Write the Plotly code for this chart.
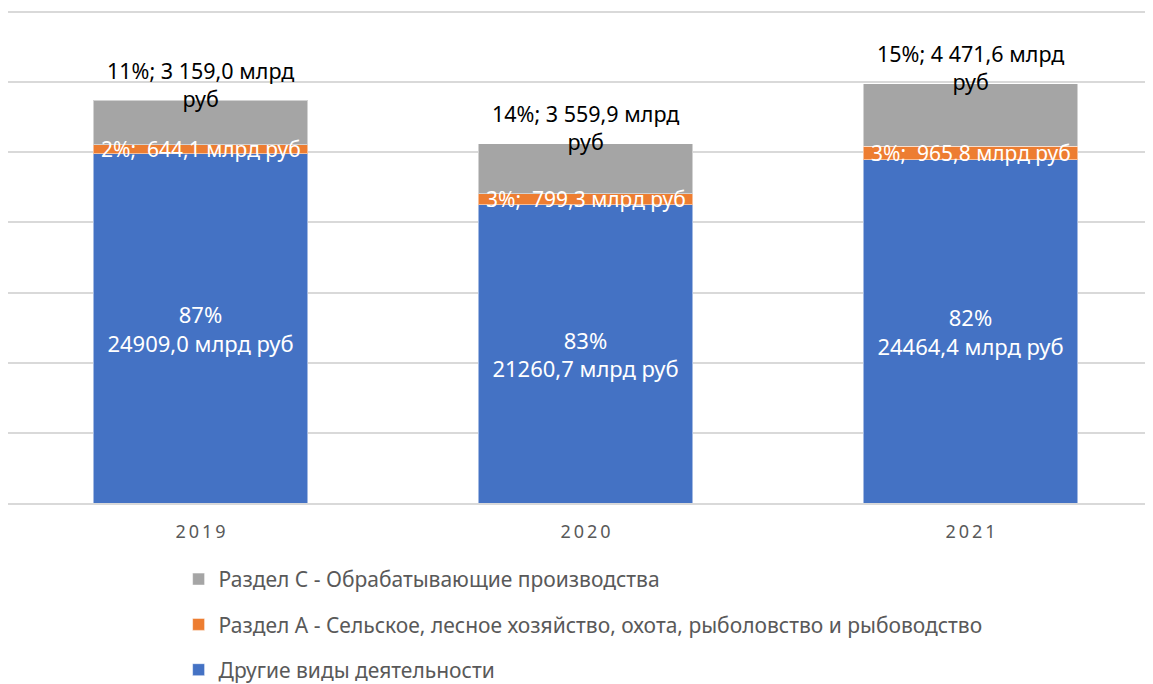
import plotly.graph_objects as go

years = ["2019", "2020", "2021"]
year_ticks = ["2\u20090\u20091\u20099", "2\u20090\u20092\u20090", "2\u20090\u20092\u20091"]

other_vals = [24909.0, 21260.7, 24464.4]
other_pct = [87, 83, 82]
a_vals = [644.1, 799.3, 965.8]
a_pct = [2, 3, 3]
c_vals = [3159.0, 3559.9, 4471.6]
c_pct = [11, 14, 15]

names = [
    "Другие виды деятельности",
    "Раздел А - Сельское, лесное хозяйство, охота, рыболовство и рыбоводство",
    "Раздел С - Обрабатывающие производства",
]
colors = ["#4472C4", "#ED7D31", "#A5A5A5"]

FONT = "Noto Sans"
edge = dict(color="rgba(255,255,255,0.5)", width=1)


def num(v, sep=""):
    s = f"{v:,.1f}".replace(",", " " if sep else "").replace(".", ",")
    return s


fig = go.Figure()

fig.add_trace(go.Bar(
    x=years, y=other_vals, name=names[0], marker_color=colors[0], marker_line=edge,
    text=[f"{p}%<br>{num(v)} млрд руб" for p, v in zip(other_pct, other_vals)],
    textposition="inside", insidetextanchor="middle",
    textfont=dict(color="white", size=22, family=FONT),
    legendgroup="g1", legendrank=3,
))
fig.add_trace(go.Bar(
    x=years, y=a_vals, name=names[1], marker_color=colors[1], marker_line=edge,
    legendgroup="g2", legendrank=2,
))
fig.add_trace(go.Bar(
    x=years, y=c_vals, name=names[2], marker_color=colors[2], marker_line=edge,
    legendgroup="g3", legendrank=1,
))

for i in range(len(years)):
    fig.add_annotation(
        x=i, y=other_vals[i] + a_vals[i] / 2, xref="x", yref="y",
        text=f"{a_pct[i]}%;  {num(a_vals[i])} млрд руб",
        showarrow=False, font=dict(color="white", size=21, family=FONT),
    )
    total = other_vals[i] + a_vals[i] + c_vals[i]
    fig.add_annotation(
        x=i, y=total, xref="x", yref="y",
        text=f"{c_pct[i]}%; {num(c_vals[i], ' ')} млрд<br>руб",
        showarrow=False, yanchor="middle", yshift=16,
        font=dict(color="black", size=21.5, family=FONT),
    )

# page body adds an 8px offset, so the figure is sized to the visible area
fig.update_layout(
    width=1145, height=676,
    margin=dict(l=0, r=0, t=0, b=181, autoexpand=False),
    paper_bgcolor="white", plot_bgcolor="white",
    barmode="stack", bargap=0.442,
    font=dict(family=FONT, color="#595959"),
    showlegend=True,
    legend=dict(
        orientation="v", traceorder="grouped", tracegroupgap=15,
        x=0.149, xanchor="left", y=-0.113, yanchor="top",
        font=dict(size=21, color="#595959", family=FONT),
    ),
)
fig.update_xaxes(
    type="category", range=[-0.5, 2.474], tickvals=years, ticktext=year_ticks,
    tickfont=dict(size=18, color="#595959", family=FONT),
    showline=True, linecolor="#D9D9D9", linewidth=1.5,
    ticks="", ticklabelstandoff=12, showgrid=False,
)
fig.update_yaxes(
    range=[0, 35285], dtick=5000, showticklabels=False,
    gridcolor="#D9D9D9", gridwidth=1.5, zeroline=False,
)

fig.write_html("out.html")
